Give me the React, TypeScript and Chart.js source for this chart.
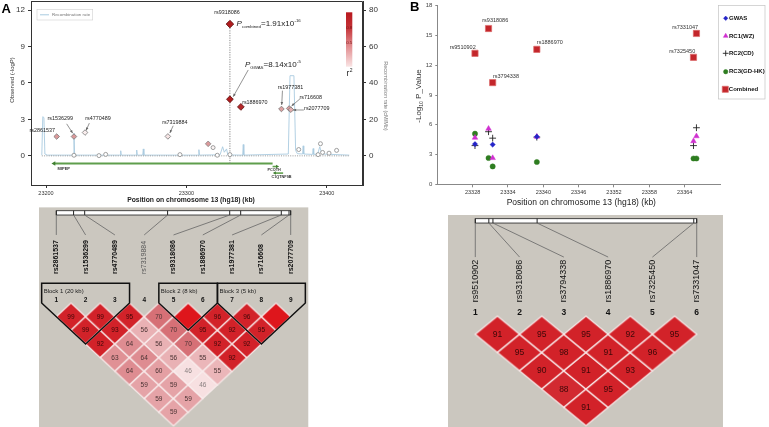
import React, { useEffect, useRef } from 'react';
import { Chart, registerables } from 'chart.js';

Chart.register(...registerables);
const FONT = '"Liberation Sans", Arial, Helvetica, sans-serif';
Chart.defaults.font.family = FONT;

// ================= Panel A : regional plot =================
const snpNamesA = ['rs2861537', 'rs1536299', 'rs4770489', 'rs7319884', 'rs9318086', 'rs1886970', 'rs1977381', 'rs716608', 'rs2077709'];
const snpPosA = [23207.6, 23219.9, 23227.8, 23286.8, 23331.0, 23338.8, 23367.7, 23373.2, 23374.4];
const snpLogPA = [1.59, 1.59, 1.92, 1.6, 4.66, 4.03, 3.86, 3.9, 3.8];
const snpR2A = [0.45, 0.45, 0.08, 0.12, 1.0, 0.95, 0.42, 0.42, 0.35];
const combinedLogPA = 10.85;
const otherPosA = [23219.9, 23237.7, 23242.5, 23295.4, 23315.5, 23319.0, 23322.0, 23331.0, 23380.0, 23393.8, 23395.5, 23397.0, 23401.6, 23407.0];
const otherLogPA = [0.05, 0.02, 0.12, 0.1, 0.99, 0.68, 0.05, 0.1, 0.52, 0.1, 1.0, 0.28, 0.22, 0.45];
const otherR2A = [0, 0, 0, 0, 0.45, 0.05, 0, 0, 0, 0, 0, 0, 0, 0];
const recombA: [number, number][] = [
  [23197.0, 0.4], [23197.7, 21.5], [23198.5, 21.0], [23199.2, 1.0], [23201.0, 0.4],
  [23219.4, 0.4], [23219.9, 12.5], [23220.4, 0.4],
  [23252.8, 0.4], [23253.2, 2.8], [23253.6, 0.4],
  [23264.2, 0.4], [23264.6, 3.2], [23265.0, 0.4],
  [23268.9, 0.4], [23269.3, 3.8], [23269.7, 0.4],
  [23308.5, 0.4], [23308.9, 3.4], [23309.3, 0.4],
  [23324.0, 0.6], [23325.8, 5.0], [23327.0, 2.0], [23328.6, 3.8], [23329.5, 0.5],
  [23340.1, 0.4], [23340.5, 6.2], [23340.9, 0.4],
  [23372.6, 1.0], [23373.8, 44.0], [23376.6, 44.0], [23377.8, 3.0], [23379.0, 1.2],
  [23382.8, 1.0], [23383.2, 5.5], [23383.6, 1.0],
  [23389.9, 0.8], [23390.3, 4.0], [23390.7, 0.8],
  [23393.5, 1.0], [23395.0, 5.0], [23396.5, 1.0],
  [23416.0, 0.4],
];
const geneNamesA = ['MIPEP', 'PCOTH', 'C1QTNF9B'];
const geneFromA = [23361.4, 23361.4, 23368.9];
const geneToA = [23205.7, 23364.6, 23363.0];
const geneLaneA = [-0.63, -0.88, -1.42];
const xTicksA = [23200, 23300, 23400];
const yTicksA = [0, 3, 6, 9, 12];
const y1TicksA = [0, 20, 40, 60, 80];

// ================= Panel B : replication plot =================
const snpNamesB = ['rs9510902', 'rs9318086', 'rs3794338', 'rs1886970', 'rs7325450', 'rs7331047'];
const snpPosB = [23328.4, 23330.7, 23331.4, 23338.9, 23365.5, 23366.0];
const gwasB = [4.05, null, 4.0, 4.8, null, null];
const rc1B = [4.7, 5.6, 2.65, 4.8, 4.35, 4.85];
const rc2B = [3.9, 5.3, 4.65, 4.75, 3.9, 5.7];
const rc3B = [5.1, 2.65, 1.8, 2.25, 2.6, 2.6];
const combinedB = [13.2, 15.7, 10.25, 13.6, 12.8, 15.2];
const xTicksB = [23328, 23334, 23340, 23346, 23352, 23358, 23364];
const yTicksB = [0, 3, 6, 9, 12, 15, 18];

// ================= LD (D') matrices =================
const ldA = [
  [99, 99, 92, 63, 64, 59, 59, 59],
  [99, 93, 64, 64, 60, 59, 59],
  [95, 56, 56, 56, 46, 46],
  [70, 70, 70, 55, 55],
  [100, 95, 92, 92],
  [96, 92, 92],
  [96, 95],
  [100],
];
const ldBoldA = [true, true, true, false, true, true, true, true, true];
const blocksA = [
  { label: 'Block 1 (20 kb)', from: 1, to: 3 },
  { label: 'Block 2 (8 kb)', from: 5, to: 6 },
  { label: 'Block 3 (5 kb)', from: 7, to: 9 },
];
const ldB = [
  [91, 95, 90, 88, 91],
  [95, 98, 91, 95],
  [95, 91, 93],
  [92, 96],
  [95],
];

// ================= helpers =================
const fnt = (size: number, weight = 'normal', style = 'normal') => `${style} ${weight} ${size}px ${FONT}`;

function fixBox(w?: number, h?: number) {
  return (s: any) => {
    if (w !== undefined) s.width = w;
    if (h !== undefined) s.height = h;
    s.paddingLeft = 0; s.paddingRight = 0; s.paddingTop = 0; s.paddingBottom = 0;
  };
}
function setTicks(vals: number[]) {
  return (s: any) => { s.ticks = vals.map((v) => ({ value: v })); };
}
function r2Color(r: number) {
  const c0 = [255, 255, 255], c1 = [176, 28, 30];
  return `rgb(${c0.map((a, i) => Math.round(a + (c1[i] - a) * r)).join(',')})`;
}
function arrow(ctx: any, x0: number, y0: number, x1: number, y1: number, color: string) {
  ctx.strokeStyle = color; ctx.fillStyle = color; ctx.lineWidth = 0.7;
  ctx.beginPath(); ctx.moveTo(x0, y0); ctx.lineTo(x1, y1); ctx.stroke();
  const a = Math.atan2(y1 - y0, x1 - x0), L = 3, W = 1.3;
  ctx.beginPath(); ctx.moveTo(x1, y1);
  ctx.lineTo(x1 - L * Math.cos(a) + W * Math.sin(a), y1 - L * Math.sin(a) - W * Math.cos(a));
  ctx.lineTo(x1 - L * Math.cos(a) - W * Math.sin(a), y1 - L * Math.sin(a) + W * Math.cos(a));
  ctx.closePath(); ctx.fill();
}
function pLabel(ctx: any, x: number, y: number, sub: string, rest: string, sup: string, big: number) {
  ctx.textAlign = 'left'; ctx.textBaseline = 'middle'; ctx.fillStyle = '#222';
  const small = big * 0.55;
  ctx.font = fnt(big, 'normal', 'italic'); ctx.fillText('P', x, y); let cx = x + ctx.measureText('P').width;
  ctx.font = fnt(small); ctx.fillText(sub, cx, y + big * 0.32); cx += ctx.measureText(sub).width;
  ctx.font = fnt(big); ctx.fillText(rest, cx, y); cx += ctx.measureText(rest).width;
  ctx.font = fnt(small); ctx.fillText(sup, cx + 0.3, y - big * 0.36);
}
function drawMarker(ctx: any, style: string, x: number, y: number, r: number, fill: string, stroke: string, lw: number) {
  ctx.beginPath();
  if (style === 'rectRot') { ctx.moveTo(x - r, y); ctx.lineTo(x, y - r); ctx.lineTo(x + r, y); ctx.lineTo(x, y + r); ctx.closePath(); }
  else if (style === 'triangle') { ctx.moveTo(x, y - r); ctx.lineTo(x + 0.866 * r, y + 0.5 * r); ctx.lineTo(x - 0.866 * r, y + 0.5 * r); ctx.closePath(); }
  else if (style === 'cross') { ctx.moveTo(x - r, y); ctx.lineTo(x + r, y); ctx.moveTo(x, y - r); ctx.lineTo(x, y + r); }
  else if (style === 'circle') { ctx.arc(x, y, r, 0, Math.PI * 2); }
  else { const s = r * Math.SQRT1_2; ctx.rect(x - s, y - s, 2 * s, 2 * s); }
  if (style !== 'cross') { ctx.fillStyle = fill; ctx.fill(); }
  if (lw > 0) { ctx.strokeStyle = stroke; ctx.lineWidth = lw; ctx.stroke(); }
}

// ================= Panel A chart =================
const panelAPlugin = {
  id: 'panelA',
  afterDraw(chart: any) {
    const { ctx, chartArea: ca, scales } = chart;
    const xs = scales.x, ys = scales.y;
    ctx.save();
    // frame
    ctx.strokeStyle = '#333'; ctx.lineWidth = 1;
    ctx.beginPath();
    ctx.moveTo(ca.left, ca.top + 0.5); ctx.lineTo(ca.right - 0.5, ca.top + 0.5); ctx.lineTo(ca.right - 0.5, ca.bottom);
    ctx.stroke();

    const combEl = chart.getDatasetMeta(0).data[0];
    const snpEls = chart.getDatasetMeta(1).data;
    const labs: [number, number, number][] = [[0, -14.5, -5.7], [1, -13.7, -17.7], [2, 13, -13.7], [3, 7, -14.4], [5, 14, -4.7], [6, 9, -21.7], [7, 21.5, -11.2], [8, 26, -0.7]];
    ctx.font = fnt(5.4); ctx.fillStyle = '#222'; ctx.textAlign = 'center'; ctx.textBaseline = 'middle';
    labs.forEach(([i, dx, dy]) => ctx.fillText(snpNamesA[i], snpEls[i].x + dx, snpEls[i].y + dy));
    ctx.fillText(snpNamesA[4], combEl.x - 3, combEl.y - 12);
    const arrs: [number, number, number, number, number][] = [[1, -7.3, -12.7, -1.3, -3.4], [2, 4.3, -9.4, 1, -2], [3, 5.3, -10.7, 2, -3.4], [4, 18.3, -29.3, 3.3, -2.6], [6, 1, -18.3, 0.3, -4], [7, 10.7, -9.5, 2.4, -2.5], [8, 13, 0.3, 2.3, 0.3]];
    arrs.forEach(([i, a, b, c, d]) => arrow(ctx, snpEls[i].x + a, snpEls[i].y + b, snpEls[i].x + c, snpEls[i].y + d, '#666'));
    pLabel(ctx, combEl.x + 6.7, combEl.y, 'combined', '=1.91x10', '-16', 8);
    pLabel(ctx, snpEls[4].x + 15, snpEls[4].y - 34.3, 'GWAS', '=8.14x10', '-5', 8);
    // gene labels
    ctx.fillStyle = '#333'; ctx.font = fnt(4, 'bold');
    ctx.textAlign = 'left';
    ctx.fillText(geneNamesA[0], xs.getPixelForValue(geneToA[0]) + 3.5, ys.getPixelForValue(geneLaneA[0]) + 5.5);
    ctx.textAlign = 'center'; ctx.font = fnt(3.8, 'bold');
    ctx.fillText(geneNamesA[1], (xs.getPixelForValue(geneFromA[1]) + xs.getPixelForValue(geneToA[1])) / 2 - 0.7, ys.getPixelForValue(geneLaneA[1]) + 3.8);
    ctx.fillText(geneNamesA[2], (xs.getPixelForValue(geneFromA[2]) + xs.getPixelForValue(geneToA[2])) / 2 + 2.5, ys.getPixelForValue(geneLaneA[2]) + 4);
    // legend box
    ctx.strokeStyle = '#d0d0d0'; ctx.lineWidth = 0.6;
    ctx.strokeRect(ca.left + 6, ca.top + 8.3, 55.7, 10.7);
    ctx.strokeStyle = '#a9cbe0'; ctx.lineWidth = 1;
    ctx.beginPath(); ctx.moveTo(ca.left + 9, ca.top + 13.8); ctx.lineTo(ca.left + 18, ca.top + 13.8); ctx.stroke();
    ctx.fillStyle = '#777'; ctx.font = fnt(4.4); ctx.textAlign = 'left';
    ctx.fillText('Recombination rate', ca.left + 21, ca.top + 13.9);
    // colour bar
    const bx = ca.right - 17, bw = 6.3, by = 12.3, bh = 54.4;
    const g = ctx.createLinearGradient(0, by, 0, by + bh);
    g.addColorStop(0, 'rgb(184,24,30)'); g.addColorStop(0.28, 'rgb(196,50,55)');
    g.addColorStop(0.6, 'rgb(224,135,138)'); g.addColorStop(1, 'rgb(249,228,228)');
    ctx.fillStyle = g; ctx.fillRect(bx, by, bw, bh);
    ctx.fillStyle = '#7a1212'; ctx.font = fnt(4.3); ctx.textAlign = 'center';
    ctx.fillText('0.8', bx + bw / 2, 27.7); ctx.fillText('0.5', bx + bw / 2, 43.3);
    ctx.fillStyle = '#222'; ctx.font = fnt(8.5); ctx.textAlign = 'left';
    ctx.fillText('r', bx + 0.6, 73.5); ctx.font = fnt(5); ctx.fillText('2', bx + 3.8, 70.3);
    // titles
    ctx.fillStyle = '#222'; ctx.font = fnt(6.8, 'bold'); ctx.textAlign = 'center';
    ctx.fillText('Position on chromosome 13 (hg18) (kb)', 191, 200.5);
    ctx.save(); ctx.translate(12, 80); ctx.rotate(-Math.PI / 2);
    ctx.font = fnt(6); ctx.fillStyle = '#333'; ctx.fillText('Observed (-logP)', 0, 0); ctx.restore();
    ctx.save(); ctx.translate(386, 96); ctx.rotate(Math.PI / 2);
    ctx.font = fnt(5.5); ctx.fillStyle = '#777'; ctx.fillText('Recombination rate (cM/Mb)', 0, 0); ctx.restore();
    ctx.fillStyle = '#000'; ctx.font = fnt(13, 'bold'); ctx.textAlign = 'left';
    ctx.fillText('A', 1.5, 9.8);
    ctx.restore();
  },
};

function makePanelA(): any {
  const typed = snpPosA.map((x, i) => ({ x, y: snpLogPA[i] }));
  const others = otherPosA.map((x, i) => ({ x, y: otherLogPA[i] }));
  const peakPos = snpPosA[snpNamesA.indexOf('rs9318086')];
  const axisGrid = { drawOnChartArea: false, tickLength: 3, color: '#333' };
  const axisBorder = { color: '#333', width: 1 };
  const datasets: any[] = [
    { label: 'Combined', data: [{ x: peakPos, y: combinedLogPA }], pointStyle: 'rectRot', pointRadius: 3.8, pointBackgroundColor: r2Color(1), pointBorderColor: '#5a0f0f', pointBorderWidth: 0.8 },
    { label: 'Typed SNPs', data: typed, pointStyle: 'rectRot', pointRadius: snpR2A.map((r) => (r > 0.8 ? 3.4 : 2.8)), pointBackgroundColor: snpR2A.map(r2Color), pointBorderColor: snpR2A.map((r) => (r > 0.8 ? '#5a0f0f' : '#777')), pointBorderWidth: 0.8 },
    { label: 'Other SNPs', data: others, pointStyle: otherR2A.map((r) => (r > 0.2 ? 'rectRot' : 'circle')), pointRadius: otherR2A.map((r) => (r > 0.2 ? 2.8 : 2.0)), pointBackgroundColor: otherR2A.map(r2Color), pointBorderColor: '#888', pointBorderWidth: 0.8 },
    { label: 'peak', data: [{ x: peakPos, y: geneLaneA[0] }, { x: peakPos, y: combinedLogPA }], showLine: true, borderColor: '#8a8a8a', borderWidth: 1, borderDash: [1.2, 1.2], pointRadius: 0 },
    { label: 'baseline', data: [{ x: recombA[0][0], y: 0 }, { x: recombA[recombA.length - 1][0], y: 0 }], showLine: true, borderColor: '#999', borderWidth: 1, borderDash: [1, 1.3], pointRadius: 0 },
    { label: 'Recombination rate', yAxisID: 'y1', data: recombA.map(([x, y]) => ({ x, y })), showLine: true, borderColor: '#a9cbe0', borderWidth: 0.9, pointRadius: 0 },
    ...geneNamesA.map((gname, i) => ({
      label: gname,
      data: [{ x: geneToA[i], y: geneLaneA[i] }, { x: geneFromA[i], y: geneLaneA[i] }],
      showLine: true, borderColor: '#5f9e4c', borderWidth: i === 0 ? 2.2 : 1.6,
      pointStyle: 'triangle', pointRadius: [i === 0 ? 2.6 : 2, 0],
      pointRotation: [geneToA[i] < geneFromA[i] ? -90 : 90, 0],
      pointBackgroundColor: '#3f7f30', pointBorderWidth: 0,
    })),
  ];
  return {
    type: 'scatter',
    data: { datasets },
    options: {
      animation: false, responsive: false, maintainAspectRatio: false, events: [],
      layout: { autoPadding: false, padding: { top: 1, left: 0, right: 0, bottom: 0 } },
      plugins: { legend: { display: false }, tooltip: { enabled: false } },
      scales: {
        x: {
          type: 'linear', min: 23189.3, max: 23425.8, afterBuildTicks: setTicks(xTicksA), afterFit: fixBox(undefined, 30),
          ticks: { font: { size: 5.5 }, color: '#333', padding: 2, autoSkip: false, maxRotation: 0, callback: (v: any) => String(v) },
          grid: axisGrid, border: axisBorder,
        },
        y: {
          type: 'linear', position: 'left', min: -2.4, max: 12.75, afterBuildTicks: setTicks(yTicksA), afterFit: fixBox(31),
          ticks: { font: { size: 8 }, color: '#333', padding: 3, callback: (v: any) => String(v) },
          grid: axisGrid, border: axisBorder,
        },
        y1: {
          type: 'linear', position: 'right', min: -16, max: 85, afterBuildTicks: setTicks(y1TicksA), afterFit: fixBox(29),
          ticks: { font: { size: 8 }, color: '#333', padding: 3, callback: (v: any) => String(v) },
          grid: axisGrid, border: axisBorder,
        },
      },
    },
    plugins: [panelAPlugin],
  };
}

// ================= Panel B chart =================
const styleB = [
  { label: 'GWAS', style: 'rectRot', r: 2.6, fill: '#2424c8', stroke: '#2424c8', lw: 0.5 },
  { label: 'RC1(WZ)', style: 'triangle', r: 3.2, fill: '#d030d0', stroke: '#d030d0', lw: 0.5 },
  { label: 'RC2(CD)', style: 'cross', r: 3.4, fill: '#222', stroke: '#222', lw: 0.9 },
  { label: 'RC3(GD-HK)', style: 'circle', r: 2.6, fill: '#2e7d20', stroke: '#2e7d20', lw: 0.5 },
  { label: 'Combined', style: 'rect', r: 4.4, fill: '#c3262b', stroke: '#dd6a6a', lw: 0.7 },
];

const panelBPlugin = {
  id: 'panelB',
  afterDraw(chart: any) {
    const { ctx } = chart;
    ctx.save();
    const comb = chart.getDatasetMeta(4).data;
    const offs: [number, number][] = [[-12.3, -6], [6.7, -7.6], [13.3, -6.6], [13, -6.4], [-11.3, -5.6], [-11.3, -6.2]];
    ctx.font = fnt(5.5); ctx.fillStyle = '#333'; ctx.textAlign = 'center'; ctx.textBaseline = 'middle';
    comb.forEach((el: any, i: number) => ctx.fillText(snpNamesB[i], el.x + offs[i][0], el.y + offs[i][1]));
    ctx.strokeStyle = '#c4c4c4'; ctx.lineWidth = 0.7;
    ctx.strokeRect(326.5, 5.5, 46.5, 93.5);
    const ly = [18.3, 36, 53.3, 71.7, 89.3];
    chart.data.datasets.forEach((ds: any, k: number) => {
      const s = styleB[k];
      drawMarker(ctx, s.style, k === 4 ? 333.3 : 333.7, ly[k], k === 4 ? 4.3 : s.r * 0.85, s.fill, s.stroke, s.lw);
      ctx.fillStyle = '#111'; ctx.font = fnt(6, 'bold'); ctx.textAlign = 'left';
      ctx.fillText(ds.label, k === 4 ? 336.8 : 337, ly[k]);
    });
    ctx.fillStyle = '#222'; ctx.font = fnt(8.5); ctx.textAlign = 'center';
    ctx.fillText('Position on chromosome 13 (hg18) (kb)', 189.3, 202.3);
    ctx.save(); ctx.translate(27, 96); ctx.rotate(-Math.PI / 2);
    const p1 = '-Log', p2 = '10', p3 = ' P_Value';
    ctx.font = fnt(8); const w1 = ctx.measureText(p1).width, w3 = ctx.measureText(p3).width;
    ctx.font = fnt(5); const w2 = ctx.measureText(p2).width;
    let cx = -(w1 + w2 + w3) / 2;
    ctx.textAlign = 'left'; ctx.fillStyle = '#333';
    ctx.font = fnt(8); ctx.fillText(p1, cx, 0); cx += w1;
    ctx.font = fnt(5); ctx.fillText(p2, cx, 2.5); cx += w2;
    ctx.font = fnt(8); ctx.fillText(p3, cx, 0);
    ctx.restore();
    ctx.fillStyle = '#000'; ctx.font = fnt(13, 'bold'); ctx.textAlign = 'left';
    ctx.fillText('B', 18, 7.8);
    ctx.restore();
  },
};

function makePanelB(): any {
  const series = [gwasB, rc1B, rc2B, rc3B, combinedB];
  const datasets = series.map((vals, k) => {
    const s = styleB[k];
    return {
      label: s.label,
      data: snpPosB.map((x, i) => ({ x, y: vals[i] })).filter((p) => p.y !== null),
      pointStyle: s.style, pointRadius: s.r, pointBackgroundColor: s.fill, pointBorderColor: s.stroke, pointBorderWidth: s.lw,
    };
  });
  const grid = { drawOnChartArea: false, tickLength: 3, color: '#888' };
  return {
    type: 'scatter',
    data: { datasets },
    options: {
      animation: false, responsive: false, maintainAspectRatio: false, events: [],
      layout: { autoPadding: false, padding: { top: 5.7, left: 0, right: 49, bottom: 0 } },
      plugins: { legend: { display: false }, tooltip: { enabled: false } },
      scales: {
        x: {
          type: 'linear', min: 23322, max: 23370, afterBuildTicks: setTicks(xTicksB), afterFit: fixBox(undefined, 30.7),
          ticks: { font: { size: 5.5 }, color: '#333', padding: 2, autoSkip: false, maxRotation: 0, callback: (v: any) => String(v) },
          grid, border: { color: '#888', width: 1 },
        },
        y: {
          type: 'linear', min: 0, max: 18, afterBuildTicks: setTicks(yTicksB), afterFit: fixBox(45.3),
          ticks: { font: { size: 6 }, color: '#444', padding: 3, callback: (v: any) => String(v) },
          grid: { ...grid, tickLength: 2 }, border: { color: '#888', width: 1 },
        },
      },
    },
    plugins: [panelBPlugin],
  };
}

// ================= LD charts =================
const diamondCache = new Map<string, HTMLCanvasElement>();
function diamondImage(color: string, hw: number, hh: number) {
  const key = `${color}|${hw.toFixed(2)}|${hh.toFixed(2)}`;
  const hit = diamondCache.get(key);
  if (hit) return hit;
  const c = document.createElement('canvas');
  c.width = 2 * Math.ceil(hw) + 2; c.height = 2 * Math.ceil(hh) + 2;
  const g = c.getContext('2d')!;
  const cx = c.width / 2, cy = c.height / 2;
  g.beginPath(); g.moveTo(cx - hw, cy); g.lineTo(cx, cy - hh); g.lineTo(cx + hw, cy); g.lineTo(cx, cy + hh); g.closePath();
  g.fillStyle = color; g.fill();
  g.strokeStyle = 'rgba(250,238,238,0.95)'; g.lineWidth = 1.2; g.stroke();
  diamondCache.set(key, c);
  return c;
}
function ldColor(v: number) {
  if (v >= 100) return 'rgb(222,22,28)';
  const light = [247, 224, 225], mid = [214, 112, 118], dark = [210, 34, 41];
  let a: number[], b: number[], t: number;
  if (v <= 70) { a = light; b = mid; t = (v - 46) / 24; } else { a = mid; b = dark; t = (v - 70) / 20; }
  t = Math.max(0, Math.min(1, t));
  return `rgb(${a.map((x, i) => Math.round(x + (b[i] - x) * t)).join(',')})`;
}

function ldPlugin(spec: any) {
  return {
    id: 'ldDecor',
    beforeDatasetsDraw(chart: any) {
      const { ctx } = chart;
      const xs = chart.scales.x, ys = chart.scales.y;
      const X = (v: number) => xs.getPixelForValue(v), Y = (v: number) => ys.getPixelForValue(v);
      const n = spec.names.length;
      ctx.save();
      ctx.fillStyle = '#cbc7bf';
      ctx.fillRect(X(spec.bgX[0]), Y(spec.bgTopD), X(spec.bgX[1]) - X(spec.bgX[0]), chart.height - Y(spec.bgTopD));
      const p0 = spec.pos[0], p1 = spec.pos[n - 1];
      const barX = (p: number) => X(1 + ((p - p0) / (p1 - p0)) * (n - 1));
      const bt = Y(spec.barTopD), bb = Y(spec.barBottomD);
      ctx.fillStyle = '#fff'; ctx.fillRect(barX(p0), bt, barX(p1) - barX(p0), bb - bt);
      ctx.strokeStyle = '#333'; ctx.lineWidth = 0.9; ctx.strokeRect(barX(p0), bt, barX(p1) - barX(p0), bb - bt);
      ctx.strokeStyle = '#222'; ctx.lineWidth = 1;
      spec.pos.forEach((p: number) => { ctx.beginPath(); ctx.moveTo(barX(p), bt); ctx.lineTo(barX(p), bb); ctx.stroke(); });
      ctx.strokeStyle = '#666'; ctx.lineWidth = 0.8;
      spec.pos.forEach((p: number, i: number) => { ctx.beginPath(); ctx.moveTo(barX(p), bb); ctx.lineTo(X(i + 1), Y(spec.lineEndD)); ctx.stroke(); });
      spec.names.forEach((name: string, i: number) => {
        ctx.save(); ctx.translate(X(i + 1), Y(spec.labelBottomD)); ctx.rotate(-Math.PI / 2);
        ctx.font = fnt(spec.labelFont, spec.bold[i] ? 'bold' : 'normal');
        ctx.fillStyle = spec.bold[i] || !spec.anyBold ? '#111' : '#555';
        ctx.textAlign = 'left'; ctx.textBaseline = 'middle';
        ctx.fillText(name, 0, 0); ctx.restore();
      });
      ctx.font = fnt(spec.numFont, 'bold'); ctx.fillStyle = '#111'; ctx.textAlign = 'center'; ctx.textBaseline = 'middle';
      spec.names.forEach((_: string, i: number) => ctx.fillText(String(i + 1), X(i + 1), Y(spec.numD)));
      ctx.restore();
    },
    afterDatasetsDraw(chart: any) {
      const { ctx } = chart;
      const xs = chart.scales.x, ys = chart.scales.y;
      const X = (v: number) => xs.getPixelForValue(v), Y = (v: number) => ys.getPixelForValue(v);
      ctx.save();
      const meta = chart.getDatasetMeta(0);
      const data = chart.data.datasets[0].data;
      ctx.font = fnt(spec.cellFont); ctx.textAlign = 'center'; ctx.textBaseline = 'middle';
      meta.data.forEach((el: any, k: number) => {
        const v = data[k].v;
        if (v >= 100) return;
        ctx.fillStyle = v >= 80 ? '#3d0808' : v >= 50 ? '#4a3333' : '#8a8080';
        ctx.fillText(String(v), el.x, el.y + 0.3);
      });
      ctx.strokeStyle = '#111'; ctx.lineWidth = 1.5; ctx.lineJoin = 'miter';
      spec.blocks.forEach((b: any) => {
        ctx.beginPath();
        ctx.moveTo(X(b.from - 0.5), Y(spec.blockTopD));
        ctx.lineTo(X(b.from - 0.5), Y(0));
        ctx.lineTo(X((b.from + b.to) / 2), Y(b.to - b.from + 1));
        ctx.lineTo(X(b.to + 0.5), Y(0));
        ctx.lineTo(X(b.to + 0.5), Y(spec.blockTopD));
        ctx.closePath(); ctx.stroke();
        ctx.fillStyle = '#222'; ctx.font = fnt(spec.blockFont); ctx.textAlign = 'left';
        ctx.fillText(b.label, X(b.from - 0.5) + 2, Y(spec.blockTextD));
      });
      ctx.restore();
    },
  };
}

function makeLD(spec: any): any {
  const cells: any[] = [];
  spec.values.forEach((row: number[], i: number) => row.forEach((v: number, k: number) => {
    const j = i + 1 + k;
    cells.push({ x: (i + j + 2) / 2, y: j - i, v });
  }));
  return {
    type: 'scatter',
    data: {
      datasets: [{
        label: "D'",
        data: cells,
        pointRadius: 1,
        pointStyle: (c: any) => {
          const xs = c.chart.scales.x, ys = c.chart.scales.y;
          if (!xs || !ys || !c.raw) return 'rectRot';
          const hw = Math.abs(xs.getPixelForValue(0.5) - xs.getPixelForValue(0));
          const hh = Math.abs(ys.getPixelForValue(1) - ys.getPixelForValue(0));
          return diamondImage(ldColor(c.raw.v), hw, hh);
        },
      }],
    },
    options: {
      animation: false, responsive: false, maintainAspectRatio: false, events: [],
      layout: { autoPadding: false, padding: 0 },
      plugins: { legend: { display: false }, tooltip: { enabled: false } },
      scales: {
        x: { type: 'linear', display: false, min: spec.xRange[0], max: spec.xRange[1] },
        y: { type: 'linear', display: false, min: spec.dRange[0], max: spec.dRange[1], reverse: true },
      },
    },
    plugins: [ldPlugin(spec)],
  };
}

const ldSpecA = {
  names: snpNamesA, pos: snpPosA, values: ldA, blocks: blocksA, bold: ldBoldA, anyBold: true,
  xRange: [0, 10], dRange: [-7.54, 9.08], bgX: [0.41, 9.6], bgTopD: -7.0,
  barTopD: -6.757, barBottomD: -6.44, lineEndD: -4.98, labelBottomD: -2.12, numD: -0.22,
  blockTopD: -1.44, blockTextD: -0.88,
  labelFont: 7, numFont: 6.5, cellFont: 6.5, blockFont: 6,
};
const ldSpecB = {
  names: snpNamesB, pos: snpPosB, values: ldB, blocks: [], bold: snpNamesB.map(() => false), anyBold: false,
  xRange: [0, 7], dRange: [-6.34, 6.07], bgX: [0.384, 6.593], bgTopD: -5.52,
  barTopD: -5.32, barBottomD: -5.08, lineEndD: -3.22, labelBottomD: -0.75, numD: -0.2,
  blockTopD: -1, blockTextD: -0.5,
  labelFont: 9, numFont: 8.5, cellFont: 8.5, blockFont: 6,
};

function ChartBox({ left, top, width, height, make }: { left: number; top: number; width: number; height: number; make: () => any }) {
  const ref = useRef<HTMLCanvasElement>(null);
  useEffect(() => {
    const chart = new Chart(ref.current as HTMLCanvasElement, make());
    return () => chart.destroy();
  }, []);
  return <canvas ref={ref} width={width} height={height} style={{ position: 'absolute', left, top, width, height }} />;
}

export default function App() {
  return (
    <div style={{ position: 'absolute', left: 0, top: 0, width: 769, height: 427, overflow: 'hidden', background: '#fff' }}>
      <ChartBox left={0} top={0} width={392} height={215} make={makePanelA} />
      <ChartBox left={392} top={0} width={377} height={215} make={makePanelB} />
      <ChartBox left={27} top={200} width={293} height={227} make={() => makeLD(ldSpecA)} />
      <ChartBox left={431} top={200} width={310} height={227} make={() => makeLD(ldSpecB)} />
    </div>
  );
}
